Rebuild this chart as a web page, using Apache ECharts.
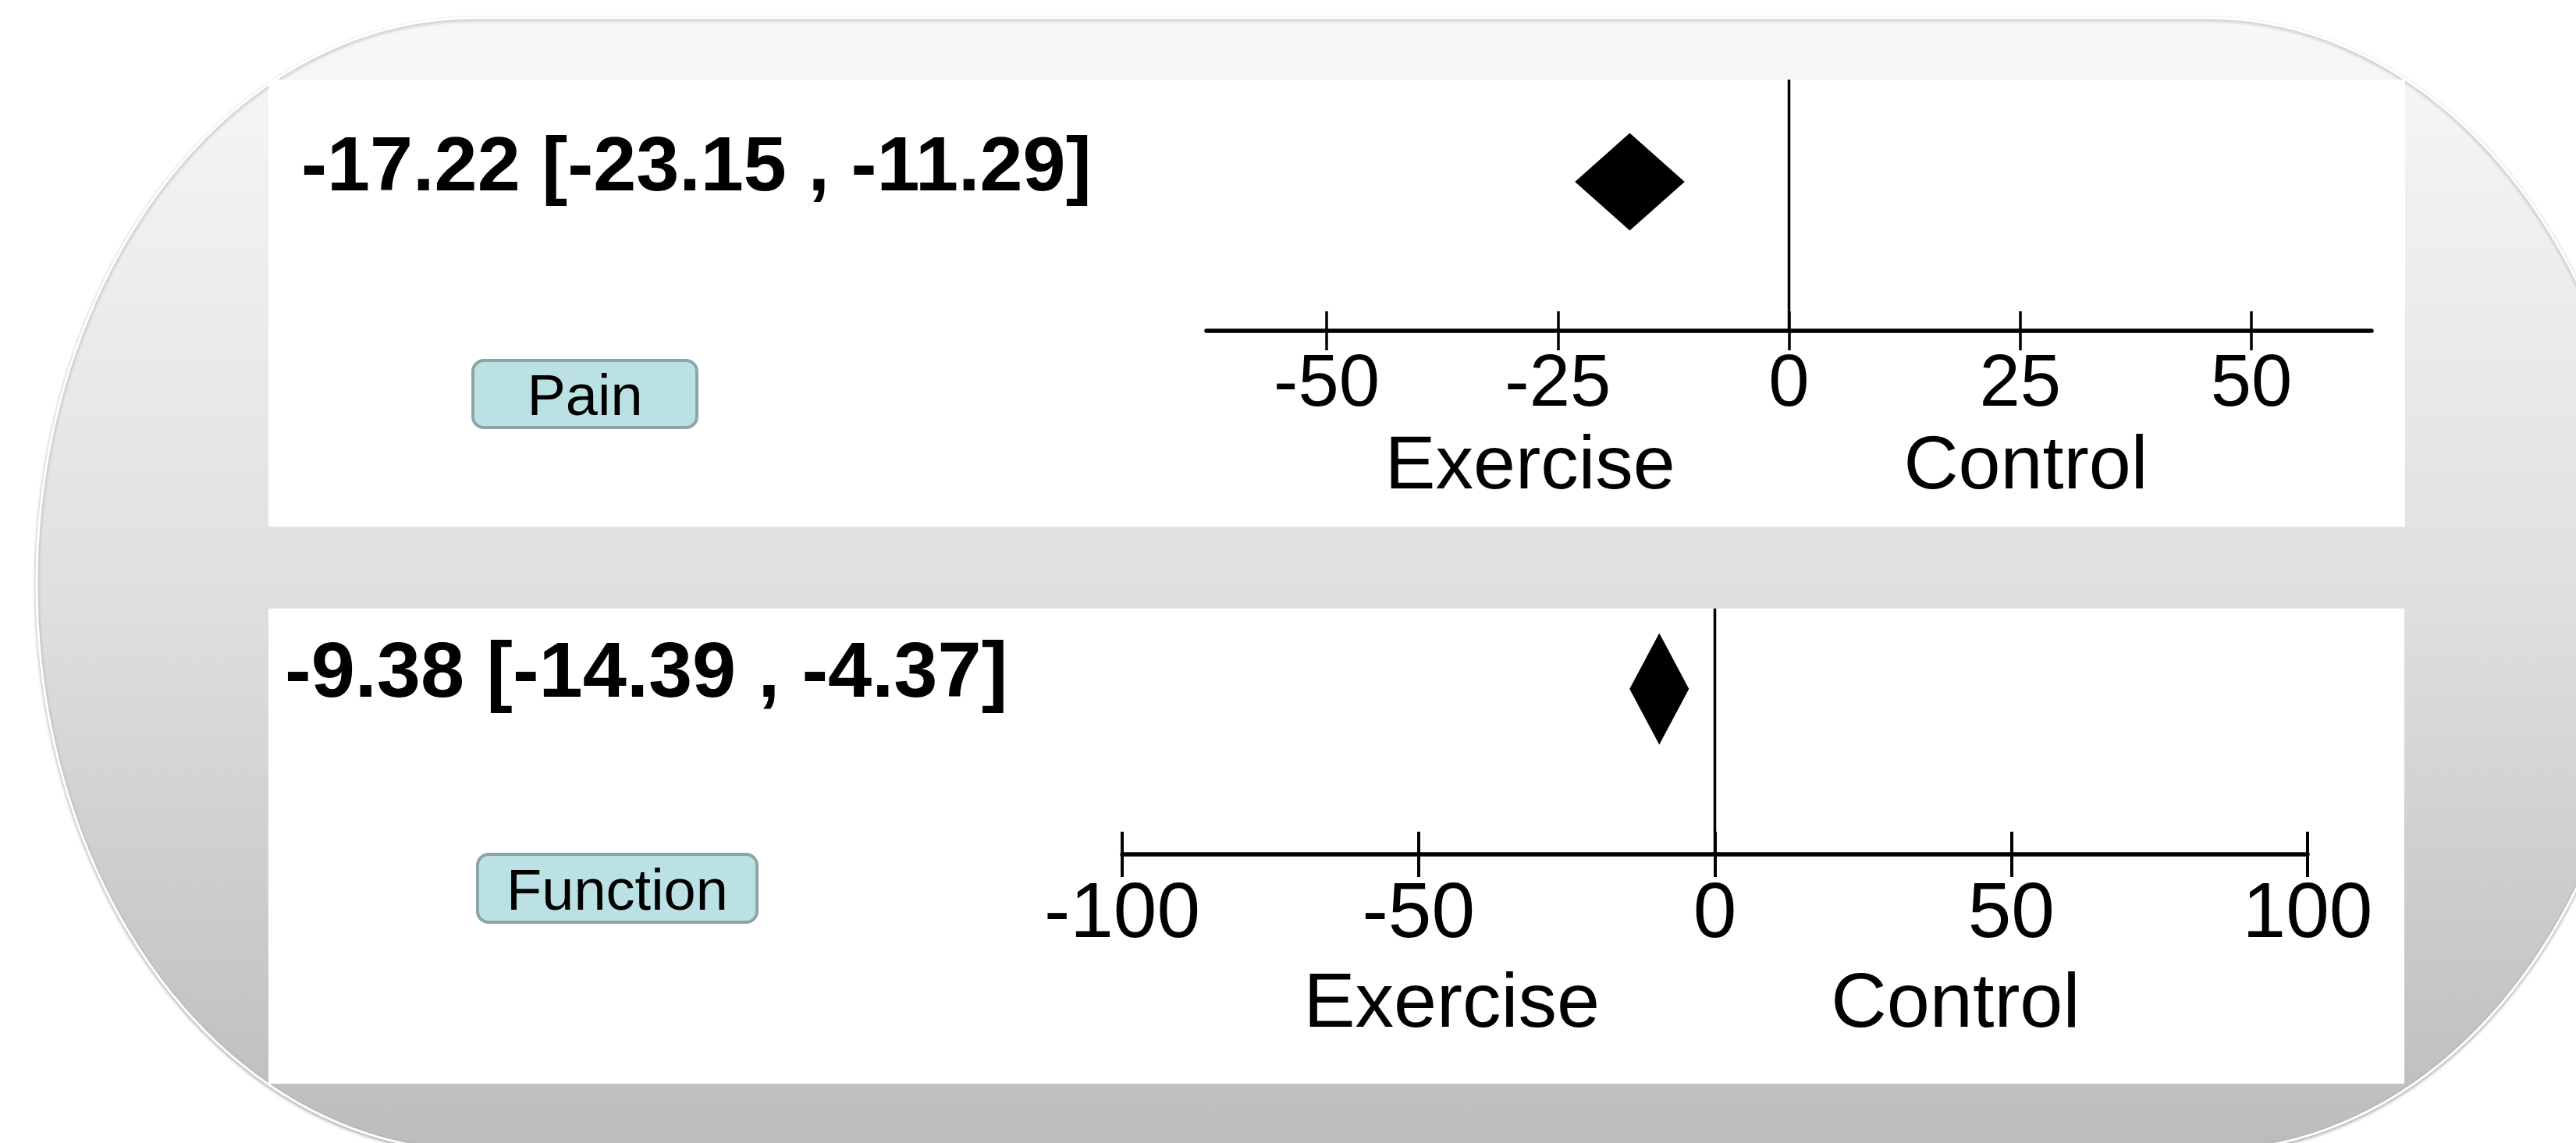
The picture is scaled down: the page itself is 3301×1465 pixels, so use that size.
<!DOCTYPE html>
<html>
<head>
<meta charset="utf-8">
<script src="https://cdn.jsdelivr.net/npm/echarts@6/dist/echarts.min.js"></script>
<style>
  html, body { margin: 0; padding: 0; background: #ffffff; }
  #chart { width: 3301px; height: 1465px; }
</style>
</head>
<body>
<div id="chart"></div>
<script>
// Pooled mean differences (95% CI), exercise vs control
const outcomes = ['Pain', 'Function'];
const estimates = [-17.22, -9.38];
const ciLower = [-23.15, -14.39];
const ciUpper = [-11.29, -4.37];

// Axis ticks and favour labels
const painTicks = [-50, -25, 0, 25, 50];
const functionTicks = [-100, -50, 0, 50, 100];
const sideLabels = ['Exercise', 'Control'];

// Layout of the two panels
const FONT = '"Liberation Sans", Arial, Helvetica, sans-serif';
const panels = [
  {
    grid: { left: 1546, top: 102, width: 1493, height: 322 },
    range: [-63, 63], ticks: painTicks,
    tickLen: 25, tickWidth: 3.5, labelSize: 94, labelMargin: 23,
    sideAt: [-28, 25.6], sideSize: 97, sideY: 599,
    rowY: 0.593, halfHeight: 62.5,
    box: { x: 344, y: 102, width: 2738, height: 573 },
    title: { x: 386, y: 217, size: 99 },
    button: { x: 606, y: 462, width: 287, height: 86 }
  },
  {
    grid: { left: 1438, top: 780, width: 1519, height: 315 },
    range: [-100, 100], ticks: functionTicks,
    tickLen: 29, tickWidth: 4, labelSize: 100, labelMargin: 28,
    sideAt: [-44.4, 40.6], sideSize: 99, sideY: 1289,
    rowY: 0.673, halfHeight: 71.5,
    box: { x: 344, y: 780, width: 2737, height: 609 },
    title: { x: 365, y: 865, size: 101 },
    button: { x: 612, y: 1095, width: 358, height: 87 }
  }
];

// Backdrop: a rounded slab with elliptical ends
const backdrop = { left: 47, right: 3389, top: 23, bottom: 1475, rx: 560 };

function backdropOutline(b) {
  const ry = (b.bottom - b.top) / 2;
  const cy = b.top + ry;
  const pts = [];
  const steps = 90;
  for (let k = 0; k <= steps; k++) {
    const a = -Math.PI / 2 + Math.PI * k / steps;
    pts.push([b.right - b.rx + b.rx * Math.cos(a), cy + ry * Math.sin(a)]);
  }
  for (let k = 0; k <= steps; k++) {
    const a = Math.PI / 2 + Math.PI * k / steps;
    pts.push([b.left + b.rx + b.rx * Math.cos(a), cy + ry * Math.sin(a)]);
  }
  return pts;
}

function ciText(i) {
  return estimates[i].toFixed(2) + ' [' + ciLower[i].toFixed(2) + ' , ' + ciUpper[i].toFixed(2) + ']';
}

function diamondRenderer(rowY, halfHeight) {
  return function (params, api) {
    const left = api.coord([api.value(0), rowY]);
    const centre = api.coord([api.value(1), rowY]);
    const right = api.coord([api.value(2), rowY]);
    const cy = centre[1];
    return {
      type: 'polygon',
      shape: { points: [[left[0], cy], [centre[0], cy - halfHeight], [right[0], cy], [centre[0], cy + halfHeight]] },
      style: { fill: '#000000' }
    };
  };
}

const grids = [], xAxes = [], yAxes = [], series = [];
const graphics = [];

graphics.push({
  id: 'backdrop',
  type: 'polygon',
  z: -20,
  shape: { points: backdropOutline(backdrop) },
  style: {
    fill: {
      type: 'linear', x: 0, y: 0, x2: 0, y2: 1,
      colorStops: [
        { offset: 0, color: '#f8f8f8' },
        { offset: 0.5, color: '#e0e0e0' },
        { offset: 1, color: '#bcbcbc' }
      ]
    },
    stroke: '#ffffff',
    lineWidth: 3,
    shadowBlur: 4,
    shadowColor: 'rgba(0,0,0,0.28)',
    shadowOffsetY: 2
  }
});

panels.forEach(function (p, i) {
  grids.push(Object.assign({ containLabel: false }, p.grid));
  const base = {
    type: 'value', gridIndex: i, min: p.range[0], max: p.range[1],
    position: 'bottom', splitLine: { show: false }
  };
  // main axis: line, outward ticks and tick labels
  xAxes.push(Object.assign({}, base, {
    axisLine: { show: true, onZero: false, lineStyle: { color: '#000', width: 5.5 } },
    axisTick: { show: true, length: p.tickLen, customValues: p.ticks, lineStyle: { color: '#000', width: p.tickWidth } },
    axisLabel: { show: true, customValues: p.ticks, margin: p.labelMargin, color: '#000', fontSize: p.labelSize, fontFamily: FONT }
  }));
  // inward half of each tick
  xAxes.push(Object.assign({}, base, {
    axisLine: { show: false },
    axisTick: { show: true, inside: true, length: p.tickLen, customValues: p.ticks, lineStyle: { color: '#000', width: p.tickWidth } },
    axisLabel: { show: false }
  }));
  yAxes.push({ type: 'value', gridIndex: i, min: 0, max: 1, show: false });

  // line of no effect
  series.push({
    type: 'line', xAxisIndex: i * 2, yAxisIndex: i, silent: true,
    symbol: 'none', data: [[0, 0], [0, 1]],
    lineStyle: { color: '#000', width: 3.5 }, z: 3
  });
  // pooled estimate diamond
  series.push({
    type: 'custom', xAxisIndex: i * 2, yAxisIndex: i, silent: true,
    renderItem: diamondRenderer(p.rowY, p.halfHeight),
    data: [[ciLower[i], estimates[i], ciUpper[i]]],
    encode: { x: [0, 1, 2] }, z: 4
  });

  // white panel
  graphics.push({ id: 'panel' + i, type: 'rect', z: -10, shape: p.box, style: { fill: '#ffffff' } });
  // estimate and CI text
  graphics.push({
    id: 'title' + i, type: 'text', z: 10, x: p.title.x, y: p.title.y,
    style: { text: ciText(i), fill: '#000', font: 'bold ' + p.title.size + 'px ' + FONT, align: 'left', verticalAlign: 'middle' }
  });
  // outcome button
  graphics.push({
    id: 'button' + i, type: 'rect', z: 10,
    shape: { x: p.button.x, y: p.button.y, width: p.button.width, height: p.button.height, r: 14 },
    style: { fill: '#bce1e4', stroke: '#8ba6a8', lineWidth: 4 }
  });
  graphics.push({
    id: 'buttonText' + i, type: 'text', z: 11,
    x: p.button.x + p.button.width / 2, y: p.button.y + p.button.height / 2 + 7,
    style: { text: outcomes[i], fill: '#000', font: '74px ' + FONT, align: 'center', verticalAlign: 'middle' }
  });
});

const chart = echarts.init(document.getElementById('chart'), null, { renderer: 'canvas' });
chart.setOption({
  backgroundColor: '#ffffff',
  animation: false,
  grid: grids,
  xAxis: xAxes,
  yAxis: yAxes,
  series: series,
  graphic: { elements: graphics }
});

// favour labels placed on each panel's axis scale
const sideTexts = [];
panels.forEach(function (p, i) {
  sideLabels.forEach(function (label, j) {
    const px = chart.convertToPixel({ xAxisIndex: i * 2 }, p.sideAt[j]);
    sideTexts.push({
      id: 'side' + i + '_' + j, type: 'text', z: 10, x: px, y: p.sideY,
      style: { text: label, fill: '#000', font: p.sideSize + 'px ' + FONT, align: 'center', verticalAlign: 'middle' }
    });
  });
});
chart.setOption({ graphic: { elements: sideTexts } });
</script>
</body>
</html>
